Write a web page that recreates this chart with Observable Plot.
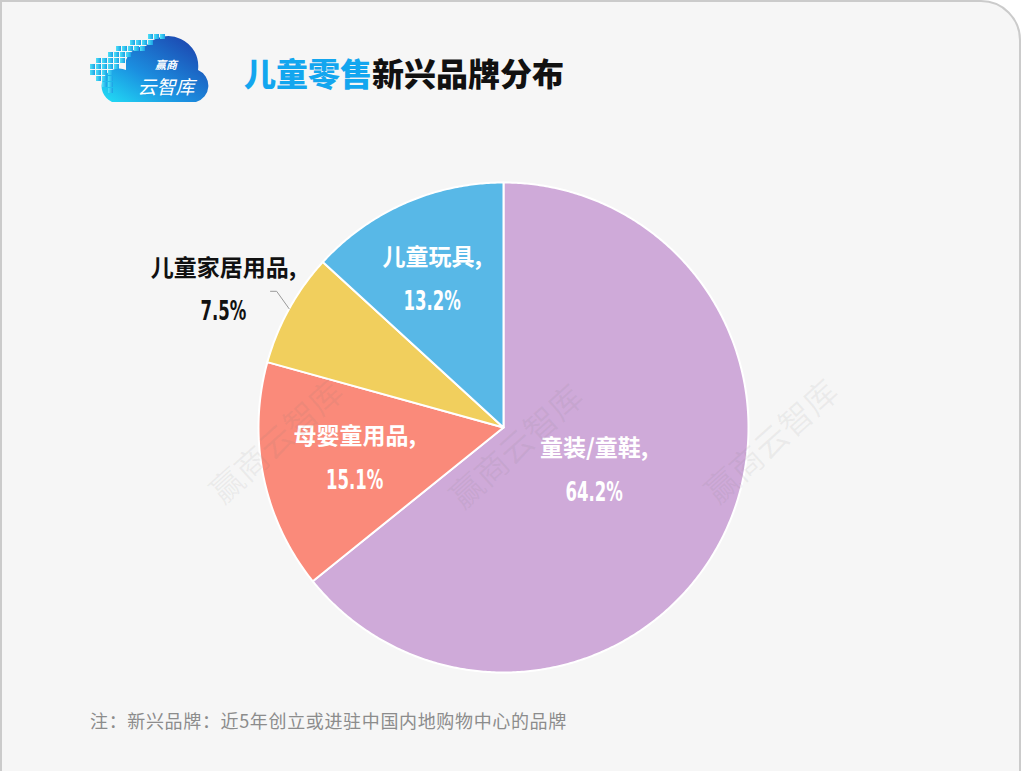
<!DOCTYPE html>
<html>
<head>
<meta charset="utf-8">
<script src="https://cdn.jsdelivr.net/npm/d3@7"></script>
<script src="https://cdn.jsdelivr.net/npm/@observablehq/plot@0.6"></script>
<style>
  html, body { margin: 0; padding: 0; background: #ffffff; width: 1022px; height: 771px; overflow: hidden; }
  #card {
    position: absolute; left: 0; top: 0; width: 1021px; height: 800px; box-sizing: border-box;
    background: #f6f6f6; border: 2px solid #cbcbcb; border-top-right-radius: 40px;
  }
  #title {
    position: absolute; left: 244px; top: 56px; font-family: "Noto Sans CJK SC", sans-serif;
    font-weight: 900; font-size: 32px; line-height: 32px; color: #111; white-space: nowrap;
  }
  #title .hl { color: #13a6ef; }
  #chart { position: absolute; left: 0; top: 120px; }
  #caption {
    position: absolute; left: 90px; top: 710px; font-family: "Noto Sans CJK SC", sans-serif;
    font-size: 18px; line-height: 20px; color: #8c8c8c; white-space: nowrap; letter-spacing: 0.65px;
  }
  .wm {
    position: absolute; font-family: "Noto Sans CJK SC", sans-serif; font-size: 33px; color: rgba(120,120,120,0.09);
    transform: translate(-50%, -50%) rotate(-42deg); white-space: nowrap; pointer-events: none;
  }
  #logo { position: absolute; left: 86px; top: 30px; }
</style>
</head>
<body>
<div id="card"></div>
<svg id="logo" width="124" height="76" viewBox="0 0 124 76">
  <defs>
    <linearGradient id="cg" x1="0" y1="1" x2="1" y2="0">
      <stop offset="0" stop-color="#22e0f6"/>
      <stop offset="0.4" stop-color="#1b8fe0"/>
      <stop offset="1" stop-color="#1d38a6"/>
    </linearGradient>
    <linearGradient id="sg" x1="0" y1="0" x2="1" y2="0">
      <stop offset="0" stop-color="#4fe3f7"/>
      <stop offset="1" stop-color="#1aa0e6"/>
    </linearGradient>
  </defs>
  <path d="M26 72 L110 72 A17 17 0 0 0 112 40 A30 30 0 0 0 60 16 A22 22 0 0 0 40 30 L40 40 A14 14 0 0 0 26 72 Z" fill="url(#cg)"/>
  <g fill="url(#sg)">
    <rect x="62" y="4" width="5" height="5"/><rect x="68" y="4" width="5" height="5"/><rect x="74" y="4" width="5" height="5"/>
    <rect x="44" y="10" width="5" height="5"/><rect x="50" y="10" width="5" height="5"/><rect x="56" y="10" width="5" height="5"/><rect x="62" y="10" width="5" height="5"/>
    <rect x="30" y="16" width="5" height="5"/><rect x="36" y="16" width="5" height="5"/><rect x="42" y="16" width="5" height="5"/><rect x="48" y="16" width="5" height="5"/><rect x="54" y="16" width="5" height="5"/>
    <rect x="22" y="22" width="5" height="5"/><rect x="28" y="22" width="5" height="5"/><rect x="34" y="22" width="5" height="5"/><rect x="40" y="22" width="5" height="5"/>
    <rect x="10" y="28" width="5" height="5"/><rect x="16" y="28" width="5" height="5"/><rect x="22" y="28" width="5" height="5"/><rect x="28" y="28" width="5" height="5"/><rect x="34" y="28" width="5" height="5"/>
    <rect x="4" y="34" width="5" height="5"/><rect x="10" y="34" width="5" height="5"/><rect x="16" y="34" width="5" height="5"/><rect x="22" y="34" width="5" height="5"/><rect x="28" y="34" width="5" height="5"/>
    <rect x="4" y="40" width="5" height="5"/><rect x="10" y="40" width="5" height="5"/><rect x="16" y="40" width="5" height="5"/><rect x="22" y="40" width="5" height="5"/>
    <rect x="10" y="46" width="5" height="5"/><rect x="16" y="46" width="5" height="5"/><rect x="22" y="46" width="5" height="5"/>
    <rect x="16" y="52" width="5" height="5"/><rect x="22" y="52" width="5" height="5"/>
    <rect x="22" y="58" width="5" height="5"/>
  </g>
  <text x="80" y="39" text-anchor="middle" font-family="Noto Sans CJK SC" font-size="11" font-weight="700" fill="#ffffff" font-style="italic">赢商</text>
  <text x="80" y="64" text-anchor="middle" font-family="Noto Sans CJK SC" font-size="19" font-weight="400" fill="#ffffff" font-style="italic">云智库</text>
</svg>
<div id="title"><span class="hl">儿童零售</span>新兴品牌分布</div>
<div id="chart"></div>
<div id="caption">注：新兴品牌：近5年创立或进驻中国内地购物中心的品牌</div>
<div class="wm" style="left:275px; top:440px;">赢商云智库</div>
<div class="wm" style="left:515px; top:445px;">赢商云智库</div>
<div class="wm" style="left:770px; top:440px;">赢商云智库</div>
<script>
// ---- data ----
const categories = ["童装/童鞋", "母婴童用品", "儿童家居用品", "儿童玩具"];
const shares = [64.2, 15.1, 7.5, 13.2];
const valueLabels = ["64.2%", "15.1%", "7.5%", "13.2%"];
const colors = ["#cfaad9", "#fa8a7a", "#f1cf5d", "#58b8e7"];

// ---- layout (not data) ----
const W = 1022, H = 580;
const cxPx = 503, cyPx = 307, Rpx = 245;
const labelRadius = [0.41, 0.62, 1.274, 0.67];
const labelAngleShift = [0, 0, -2.8, -2];
const outsideLabel = [false, false, true, false];

const rows = categories.map((c, i) => ({cat: c, share: shares[i], value: valueLabels[i], i}));
const arcs = d3.pie().sort(null).value(d => d.share)(rows);

// slice outlines in unit-radius coordinates
const slicePts = [];
for (const a of arcs) {
  const cat = a.data.cat;
  slicePts.push({cat, x: 0, y: 0});
  const n = Math.max(2, Math.ceil((a.endAngle - a.startAngle) / (Math.PI / 360)));
  for (let k = 0; k <= n; k++) {
    const t = a.startAngle + (a.endAngle - a.startAngle) * k / n;
    slicePts.push({cat, x: Math.sin(t), y: Math.cos(t)});
  }
  slicePts.push({cat, x: 0, y: 0});
}

const labels = arcs.map(a => {
  const i = a.data.i;
  const mid = (a.startAngle + a.endAngle) / 2 + labelAngleShift[i] * Math.PI / 180;
  const r = labelRadius[i];
  return {cat: a.data.cat, name: a.data.cat + ",", value: a.data.value, x: r * Math.sin(mid), y: r * Math.cos(mid), outside: outsideLabel[i], mid: (a.startAngle + a.endAngle) / 2};
});

// leader line for outside labels
const leader = [];
for (const l of labels.filter(d => d.outside)) {
  const m = l.mid;
  const elbow = {x: 1.08 * Math.sin(m + 2 * Math.PI / 180), y: 1.08 * Math.cos(m + 2 * Math.PI / 180)};
  leader.push({cat: l.cat, x: Math.sin(m), y: Math.cos(m)});
  leader.push({cat: l.cat, x: elbow.x, y: elbow.y});
  leader.push({cat: l.cat, x: elbow.x - 0.025, y: elbow.y});
}

const nameFont = "'Noto Sans CJK SC', sans-serif";
const numFont = "'DejaVu Sans Condensed', 'DejaVu Sans', sans-serif";

const chart = Plot.plot({
  width: W, height: H, margin: 0,
  style: {background: "transparent", overflow: "visible"},
  x: {domain: [-cxPx / Rpx, (W - cxPx) / Rpx], axis: null},
  y: {domain: [(cyPx - H) / Rpx, cyPx / Rpx], axis: null},
  color: {domain: categories, range: colors},
  marks: [
    Plot.line(slicePts, {x: "x", y: "y", z: "cat", fill: "cat", stroke: "#ffffff", strokeWidth: 2, strokeLinejoin: "round", curve: "linear"}),
    Plot.line(leader, {x: "x", y: "y", z: "cat", stroke: "#9a9a9a", strokeWidth: 1}),
    Plot.text(labels.filter(d => !d.outside), {x: "x", y: "y", text: "name", dy: -22, fill: "#ffffff", fontSize: 23, fontWeight: 700, fontFamily: nameFont}),
    Plot.text(labels.filter(d => !d.outside), {x: "x", y: "y", text: "value", dy: 22, fill: "#ffffff", fontSize: 27, fontWeight: 700, fontFamily: numFont}),
    Plot.text(labels.filter(d => d.outside), {x: "x", y: "y", text: "name", dy: -21, fill: "#111111", fontSize: 23, fontWeight: 700, fontFamily: nameFont}),
    Plot.text(labels.filter(d => d.outside), {x: "x", y: "y", text: "value", dy: 22, fill: "#111111", fontSize: 27, fontWeight: 700, fontFamily: numFont})
  ]
});
// narrow the percentage figures horizontally, like the condensed face of the original
d3.select(chart).selectAll("text").each(function() {
  if (!/%$/.test(this.textContent.trim())) return;
  const t = this.getAttribute("transform");
  if (t) {
    this.setAttribute("transform", t + " scale(0.68,1)");
  } else {
    const xa = parseFloat(this.getAttribute("x")) || 0;
    this.removeAttribute("x");
    this.setAttribute("transform", `translate(${xa},0) scale(0.68,1)`);
  }
});
document.getElementById("chart").appendChild(chart);
</script>
</body>
</html>
